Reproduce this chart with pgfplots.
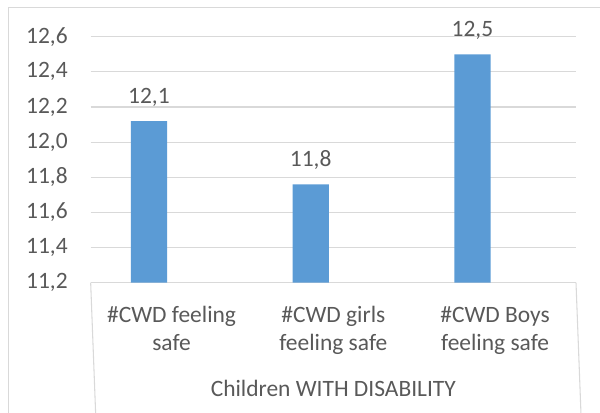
\documentclass[border=0pt]{standalone}
\usepackage{pgfplots}
\pgfplotsset{compat=1.18}
\usepackage{fontspec}
\setmainfont{Carlito}
\definecolor{barblue}{HTML}{5B9BD5}
\definecolor{txtgray}{HTML}{595959}
\definecolor{linegray}{HTML}{D9D9D9}
\newcommand{\chartfont}{\fontsize{17.6pt}{21pt}\selectfont}

\begin{document}
\begin{tikzpicture}
% chart frame (left and top edges)
\draw[linegray, line width=0.8pt] (6.2pt,-20pt) -- (6.2pt,303.4pt) -- (470pt,303.4pt);
\begin{axis}[
  at={(68.0pt,97.0pt)}, anchor=south west,
  scale only axis,
  width=364.0pt, height=184.5pt,
  xmin=-0.5, xmax=2.5,
  ymin=11.2, ymax=12.6,
  ytick={11.2,11.4,11.6,11.8,12.0,12.2,12.4,12.6},
  xtick={0,1,2},
  xticklabels={{\#CWD feeling\\safe},{\#CWD girls\\feeling safe},{\#CWD Boys\\feeling safe}},
  ymajorgrids,
  grid style={linegray, line width=0.8pt},
  axis line style={draw=none},
  major tick length=0pt,
  tick label style={font=\chartfont, text=txtgray},
  /pgf/number format/assume math mode=true,
  yticklabel={\pgfmathprintnumber[fixed, fixed zerofill, precision=1, use comma]{\tick}},
  yticklabel style={anchor=east, inner sep=0pt},
  yticklabel shift=17pt,
  xticklabel style={align=center, anchor=north, inner sep=0pt},
  xticklabel shift=17.5pt,
  clip=false,
  ybar,
  bar width=0.224,
  bar shift=-0.14,
  nodes near coords={\pgfmathprintnumber[fixed, fixed zerofill, precision=1, use comma]{\pgfplotspointmeta}},
  nodes near coords style={font=\chartfont, text=txtgray, anchor=base, inner sep=0pt, yshift=13.5pt},
]
\addplot[fill=barblue, draw=none] coordinates {(0,12.12) (1,11.76) (2,12.50)};
% category box below the axis
\draw[linegray, line width=0.8pt] (rel axis cs:0,0) -- ++(0,-120pt);
\draw[linegray, line width=0.8pt] (rel axis cs:1,0) -- ++(0,-120pt);
\node[font=\chartfont, text=txtgray, anchor=base, inner sep=0pt]
  at ([yshift=-85.5pt]rel axis cs:0.5,0) {Children WITH DISABILITY};
\end{axis}
\pgfresetboundingbox
\useasboundingbox (0pt,0pt) rectangle (450pt,309pt);
\end{tikzpicture}
\end{document}
